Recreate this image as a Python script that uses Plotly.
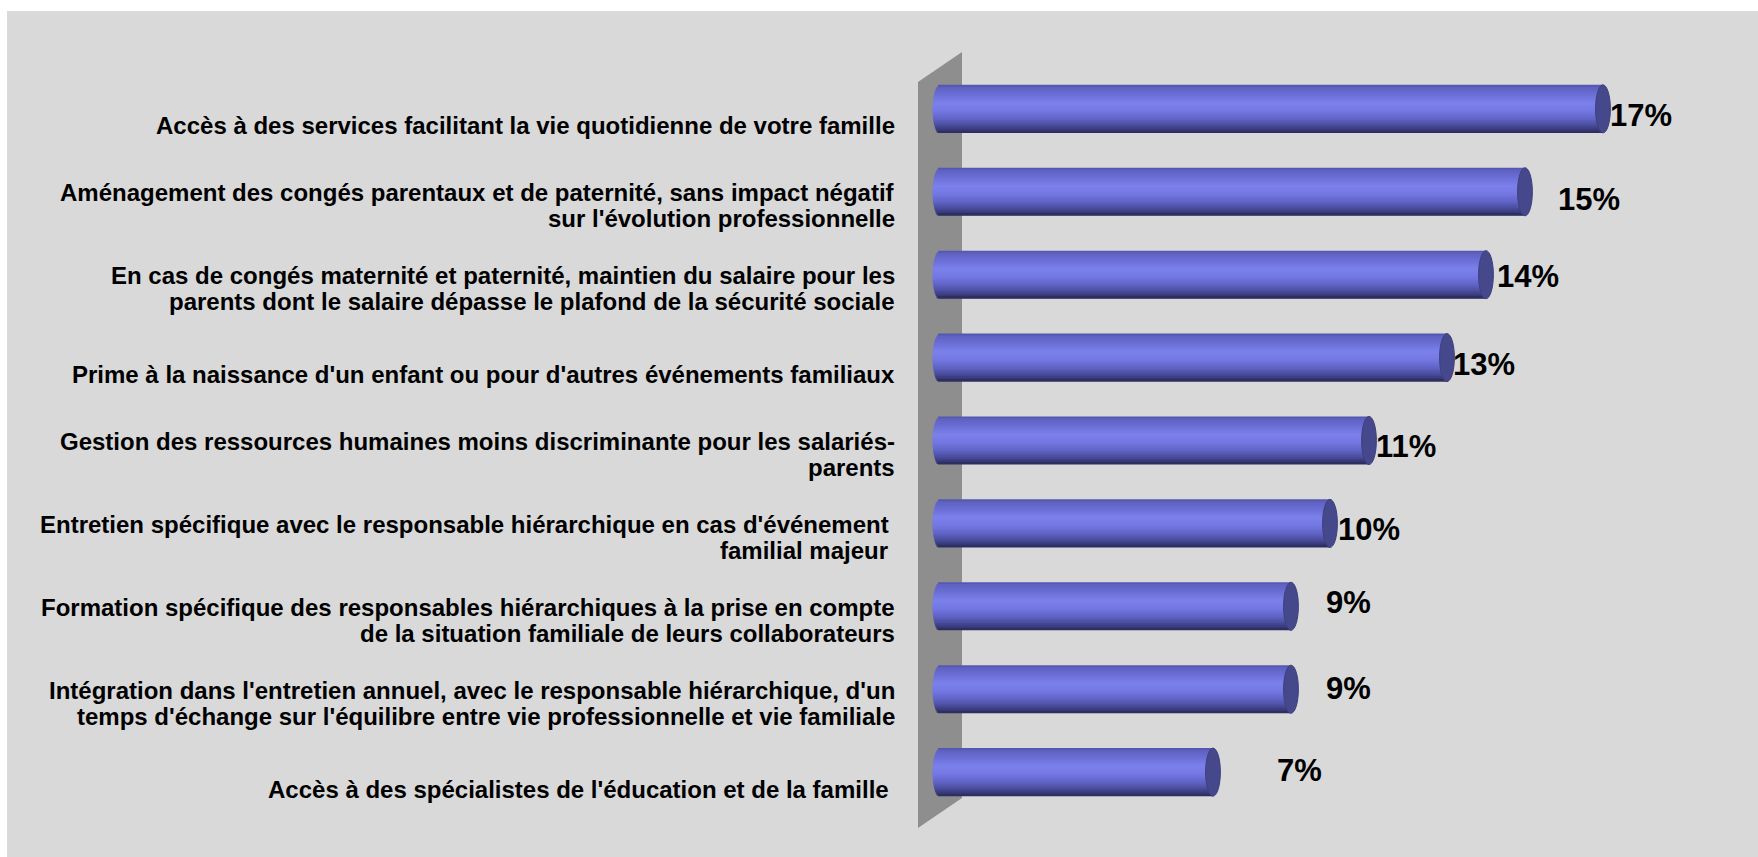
import numpy as np
import plotly.graph_objects as go

# ---------------- data ----------------
categories = [
    "Accès à des services facilitant la vie quotidienne de votre famille",
    "Aménagement des congés parentaux et de paternité, sans impact négatif<br>sur l'évolution professionnelle",
    "En cas de congés maternité et paternité, maintien du salaire pour les<br>parents dont le salaire dépasse le plafond de la sécurité sociale",
    "Prime à la naissance d'un enfant ou pour d'autres événements familiaux",
    "Gestion des ressources humaines moins discriminante pour les salariés-<br>parents",
    "Entretien spécifique avec le responsable hiérarchique en cas d'événement\u00a0<br>familial majeur\u00a0",
    "Formation spécifique des responsables hiérarchiques à la prise en compte<br>de la situation familiale de leurs collaborateurs",
    "Intégration dans l'entretien annuel, avec le responsable hiérarchique, d'un<br>temps d'échange sur l'équilibre entre vie professionnelle et vie familiale",
    "Accès à des spécialistes de l'éducation et de la famille\u00a0",
]
values = [17, 15, 14, 13, 11, 10, 9, 9, 7]
value_labels = ["17%", "15%", "14%", "13%", "11%", "10%", "9%", "9%", "7%"]

# label nudges (pixels) mimicking the original 3D label placement
label_dx = [0, 26, 4, -1, 0, 1, 28, 28, 57]
label_dy = [7, 8, 2, 7, 6, 6.5, -4, -1, -2]

# ---------------- styling ----------------
W, H = 1758, 857
ML, MR, MT, MB = 905, 8, 26, 2
X_RANGE = [-0.897, 20.77]
Y_RANGE = [9, -1]
BAR_H = 0.58
RX = 0.19
N_BANDS = 26
FONT = "Liberation Sans, Arial, sans-serif"
CAT_FONT_SIZE = 24
LINE_GAP = 26
CAT_SHIFT = -14
SINGLE_EXTRA = -3

stops = [
    (0.00, "#4F52A6"),
    (0.05, "#5E61C0"),
    (0.16, "#676ACF"),
    (0.38, "#7C80EC"),
    (0.55, "#7477E1"),
    (0.70, "#6165C7"),
    (0.82, "#4E51A4"),
    (0.92, "#3A3C7E"),
    (1.00, "#2A2B58"),
]


def hex2rgb(h):
    h = h.lstrip("#")
    return np.array([int(h[i:i + 2], 16) for i in (0, 2, 4)], dtype=float)


def interp_color(t):
    for (t0, c0), (t1, c1) in zip(stops[:-1], stops[1:]):
        if t0 <= t <= t1:
            f = (t - t0) / (t1 - t0) if t1 > t0 else 0
            c = hex2rgb(c0) * (1 - f) + hex2rgb(c1) * f
            return "rgb(%d,%d,%d)" % tuple(np.round(c))
    return stops[-1][1]


pos = list(range(len(categories)))

fig = go.Figure()

step = BAR_H / N_BANDS
for i in range(N_BANDS):
    tmid = (i + 0.5) / N_BANDS
    s = np.sqrt(max(0.0, 1 - (2 * tmid - 1) ** 2))
    base = -RX * s
    lengths = [v - base for v in values]
    width = step * 1.7 if i < N_BANDS - 1 else step
    fig.add_trace(go.Bar(
        orientation="h",
        y=pos,
        x=lengths,
        base=[base] * len(values),
        width=width,
        offset=-BAR_H / 2 + i * step,
        marker=dict(color=interp_color(tmid), line=dict(width=0)),
        hoverinfo="skip",
        showlegend=False,
    ))

shapes = []
# grey background panel
shapes.append(dict(
    type="rect", xref="paper", yref="paper",
    x0=(7 - ML) / (W - ML - MR), x1=1.5,
    y0=-0.5, y1=1 - (11 - MT) / (H - MT - MB),
    fillcolor="#D9D9D9", line=dict(width=0), layer="below",
))
# 3D side wall
shapes.append(dict(
    type="path", xref="x", yref="y",
    path="M -0.564,-0.3245 L 0.564,-0.686 L 0.564,8.312 L -0.564,8.674 Z",
    fillcolor="#8E8E8E", line=dict(width=0), layer="below",
))
# end caps of cylinders
for p, v in zip(pos, values):
    shapes.append(dict(
        type="circle", xref="x", yref="y",
        x0=v - RX, x1=v + RX, y0=p - BAR_H / 2, y1=p + BAR_H / 2,
        fillcolor="#46488C", line=dict(color="#3E407F", width=1), layer="above",
    ))

annotations = []
for p, c in zip(pos, categories):
    lines = c.split("<br>")
    n = len(lines)
    extra = SINGLE_EXTRA if n == 1 else 0
    for j, line in enumerate(lines):
        annotations.append(dict(
            x=(897 - ML) / (W - ML - MR), xref="paper", y=p, yref="y",
            text=line, showarrow=False, xanchor="right", yanchor="middle",
            align="right",
            yshift=CAT_SHIFT + extra - (j - (n - 1) / 2) * LINE_GAP,
            font=dict(family=FONT, size=CAT_FONT_SIZE, color="#000000",
                      weight="bold"),
        ))
for p, v, lab, dx, dy in zip(pos, values, value_labels, label_dx, label_dy):
    annotations.append(dict(
        x=v, xref="x", y=p, yref="y", text=lab, showarrow=False,
        xanchor="left", yanchor="middle", xshift=7.5 + dx - 2, yshift=-dy,
        font=dict(family=FONT, size=31, color="#000000", weight="bold"),
    ))

fig.update_layout(
    width=W, height=H,
    margin=dict(l=ML, r=MR, t=MT, b=MB, autoexpand=False),
    paper_bgcolor="#FFFFFF",
    plot_bgcolor="rgba(0,0,0,0)",
    barmode="overlay",
    xaxis=dict(range=X_RANGE, visible=False, fixedrange=True),
    yaxis=dict(range=Y_RANGE, visible=False, fixedrange=True),
    shapes=shapes,
    annotations=annotations,
    showlegend=False,
    hovermode=False,
)

fig.write_html(
    "out.html",
    config={"displayModeBar": False},
    post_script="document.body.style.margin='0';document.body.style.overflow='hidden';",
)
